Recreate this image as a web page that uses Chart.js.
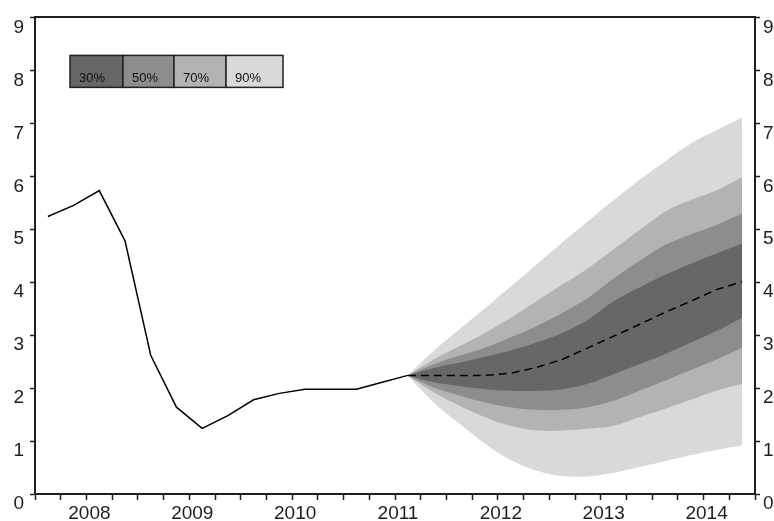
<!DOCTYPE html>
<html>
<head>
<meta charset="utf-8">
<script src="https://cdn.jsdelivr.net/npm/chart.js@4.4.1/dist/chart.umd.min.js"></script>
<style>
  body { margin: 0; background: #fff; }
  #wrap { width: 774px; height: 521px; }
</style>
</head>
<body>
<div id="wrap"><canvas id="myChart" width="774" height="521"></canvas></div>
<script>
// quarters 2008Q1 .. 2014Q4
const quarters = [
  "2008Q1", "2008Q2", "2008Q3", "2008Q4", "2009Q1", "2009Q2", "2009Q3", "2009Q4",
  "2010Q1", "2010Q2", "2010Q3", "2010Q4", "2011Q1", "2011Q2", "2011Q3", "2011Q4",
  "2012Q1", "2012Q2", "2012Q3", "2012Q4", "2013Q1", "2013Q2", "2013Q3", "2013Q4",
  "2014Q1", "2014Q2", "2014Q3", "2014Q4"
];
const yearLabels = ["2008", "2009", "2010", "2011", "2012", "2013", "2014"];
const yTicks = [0, 1, 2, 3, 4, 5, 6, 7, 8, 9];

// observed values, 2008Q1 .. 2011Q3
const historia = [5.24, 5.45, 5.73, 4.78, 2.62, 1.64, 1.24, 1.48, 1.78, 1.90, 1.98, 1.98, 1.98, 2.11, 2.24];

// forecast, 2011Q3 .. 2014Q4
const inicioProyeccion = 14;
const central = [2.24, 2.24, 2.24, 2.24, 2.28, 2.39, 2.54, 2.76, 2.98, 3.20, 3.43, 3.64, 3.86, 4.01];
const sup90 = [2.24, 2.70, 3.11, 3.51, 3.92, 4.33, 4.75, 5.15, 5.55, 5.93, 6.28, 6.62, 6.87, 7.11];
const sup70 = [2.24, 2.54, 2.79, 3.04, 3.33, 3.64, 3.95, 4.26, 4.62, 4.98, 5.33, 5.55, 5.73, 5.98];
const sup50 = [2.24, 2.45, 2.61, 2.76, 2.96, 3.17, 3.42, 3.70, 4.07, 4.40, 4.70, 4.90, 5.08, 5.30];
const sup30 = [2.24, 2.38, 2.48, 2.59, 2.71, 2.86, 3.04, 3.29, 3.64, 3.90, 4.14, 4.35, 4.54, 4.73];
const inf30 = [2.24, 2.11, 2.04, 1.98, 1.95, 1.95, 1.98, 2.08, 2.26, 2.45, 2.64, 2.86, 3.08, 3.33];
const inf50 = [2.24, 2.01, 1.86, 1.73, 1.64, 1.59, 1.59, 1.64, 1.76, 1.95, 2.14, 2.34, 2.54, 2.76];
const inf70 = [2.24, 1.92, 1.67, 1.45, 1.29, 1.20, 1.20, 1.23, 1.29, 1.45, 1.61, 1.78, 1.95, 2.08];
const inf90 = [2.24, 1.73, 1.33, 0.95, 0.64, 0.44, 0.34, 0.33, 0.40, 0.51, 0.62, 0.73, 0.83, 0.92];

const bandas = ["30%", "50%", "70%", "90%"];
const coloresBandas = ["#676767", "#8d8d8d", "#b3b3b3", "#d9d9d9"];

const fuente = "'Liberation Sans', Arial, sans-serif";
const colorEje = "#1e1e1e";

// points sit in the middle of each quarter
const toPoints = (valores, inicio) =>
  valores.map((v, i) => ({ x: inicio + i + 0.5, y: v }));

const banda = (valores, color, orden, relleno) => ({
  data: toPoints(valores, inicioProyeccion),
  borderWidth: 0,
  pointRadius: 0,
  backgroundColor: color,
  fill: relleno ? "+1" : false,
  tension: 0.35,
  order: orden,
});

const datasets = [
  banda(sup30, coloresBandas[0], 1, true),
  banda(inf30, coloresBandas[0], 1, false),
  banda(sup50, coloresBandas[1], 2, true),
  banda(inf50, coloresBandas[1], 2, false),
  banda(sup70, coloresBandas[2], 3, true),
  banda(inf70, coloresBandas[2], 3, false),
  banda(sup90, coloresBandas[3], 4, true),
  banda(inf90, coloresBandas[3], 4, false),
  {
    data: toPoints(central, inicioProyeccion),
    borderColor: "#000",
    borderWidth: 1.5,
    borderDash: [8, 5],
    pointRadius: 0,
    fill: false,
    order: 0,
  },
  {
    data: toPoints(historia, 0),
    borderColor: "#000",
    borderWidth: 1.5,
    pointRadius: 0,
    fill: false,
    order: 0,
  },
];

// legend box with the four bands
const leyendaBandas = {
  id: "leyendaBandas",
  afterDraw(chart) {
    const ctx = chart.ctx;
    const area = chart.chartArea;
    const anchos = [53, 51, 52, 57];
    const alto = 32;
    let x = area.left + 35;
    const y = area.top + 38;
    ctx.save();
    ctx.font = "13px 'Liberation Sans', Arial, sans-serif";
    ctx.textBaseline = "alphabetic";
    bandas.forEach((b, i) => {
      ctx.fillStyle = coloresBandas[i];
      ctx.fillRect(x, y, anchos[i], alto);
      ctx.strokeStyle = "#222";
      ctx.lineWidth = 1.5;
      ctx.strokeRect(x, y, anchos[i], alto);
      ctx.fillStyle = "#111";
      ctx.fillText(b, x + 9, y + alto - 5);
      x += anchos[i];
    });
    ctx.restore();
  },
};

const ejeY = (posicion, ancho, padding) => ({
  type: "linear",
  position: posicion,
  min: 0,
  max: 9,
  afterFit: (scale) => { scale.width = ancho; },
  afterBuildTicks: (scale) => { scale.ticks = yTicks.map((v) => ({ value: v })); },
  ticks: {
    color: colorEje,
    font: { family: fuente, size: 19 },
    padding: padding,
    labelOffset: 10,
  },
  grid: { drawOnChartArea: false, tickLength: 5, tickWidth: 1.5, tickColor: colorEje },
  border: { color: colorEje, width: 2 },
});

new Chart(document.getElementById("myChart"), {
  type: "line",
  data: { datasets },
  options: {
    responsive: false,
    animation: false,
    devicePixelRatio: 1,
    layout: { padding: 0 },
    plugins: { legend: { display: false }, tooltip: { enabled: false } },
    scales: {
      x: {
        type: "linear",
        position: "bottom",
        min: 0,
        max: quarters.length,
        afterFit: (scale) => { scale.height = 27; },
        ticks: {
          stepSize: 1,
          autoSkip: false,
          maxRotation: 0,
          color: colorEje,
          font: { family: fuente, size: 19 },
          padding: 2,
          labelOffset: 3,
          callback: (v) => (v % 4 === 2 ? yearLabels[(v - 2) / 4] : ""),
        },
        grid: { drawOnChartArea: false, tickLength: 6, tickWidth: 1.5, tickColor: colorEje },
        border: { color: colorEje, width: 2 },
      },
      arriba: {
        type: "linear",
        position: "top",
        min: 0,
        max: quarters.length,
        afterFit: (scale) => { scale.height = 14; },
        ticks: { display: false },
        grid: { drawOnChartArea: false, drawTicks: false },
        border: { color: colorEje, width: 2 },
      },
      y: ejeY("left", 35, 6),
      derecha: ejeY("right", 19, 3),
    },
  },
  plugins: [leyendaBandas],
});
</script>
</body>
</html>
